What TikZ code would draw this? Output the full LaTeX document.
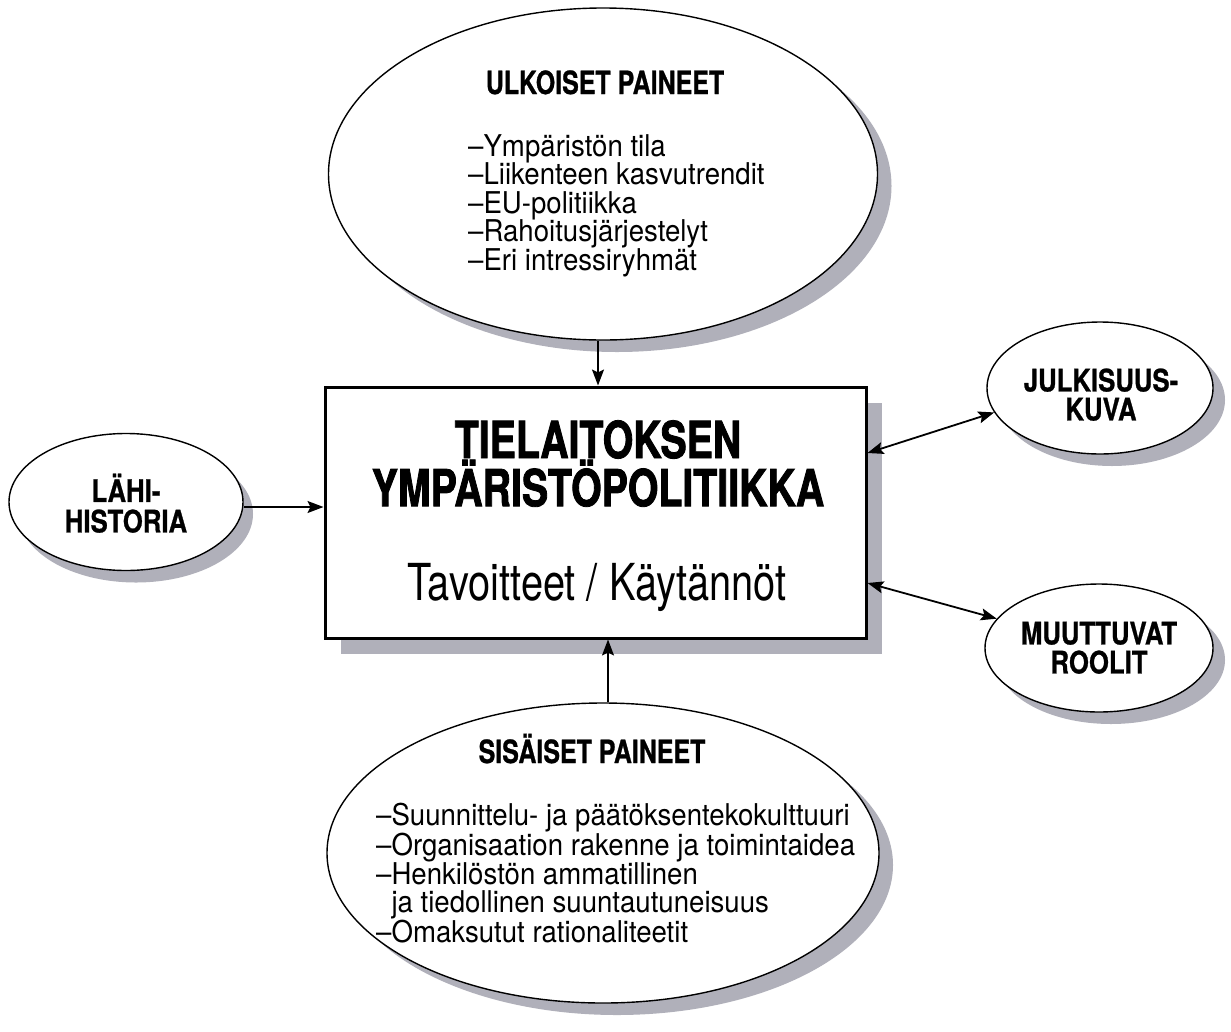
\documentclass[tikz,border=0pt]{standalone}
\usepackage{fontspec}
\setmainfont{TeX Gyre Heros}
\newfontfamily\itemf[FakeStretch=0.92]{TeX Gyre Heros}
\newfontfamily\headf[FakeStretch=0.78,BoldFeatures={FakeBold=0.8}]{TeX Gyre Heros}
\newfontfamily\smallf[FakeStretch=0.83,BoldFeatures={FakeBold=0.8}]{TeX Gyre Heros}
\newfontfamily\titlef[FakeStretch=0.77,BoldFeatures={FakeBold=1.6}]{TeX Gyre Heros}
\newfontfamily\subf[FakeStretch=0.78]{TeX Gyre Heros}
\usetikzlibrary{shapes.geometric,arrows.meta,calc}
\definecolor{shade}{RGB}{176,176,186}
\begin{document}
\begin{tikzpicture}[x=1pt,y=-1pt,
  bubble/.style={ellipse, draw=black, line width=1.4pt, fill=white, inner sep=0pt},
  bubshadow/.style={ellipse, fill=shade, draw=none, inner sep=0pt},
  tip/.tip={Stealth[length=16pt,width=12pt,inset=3pt]},
  conn/.style={line width=1.8pt, -tip},
  dconn/.style={line width=1.8pt, tip-tip},
  headtxt/.style={font=\headf\bfseries\fontsize{32}{32}\selectfont, inner sep=0pt},
  smalltxt/.style={font=\smallf\bfseries\fontsize{31}{29}\selectfont, inner sep=0pt, align=center},
  itemtxt/.style={font=\itemf\fontsize{30}{28.5}\selectfont, inner sep=0pt, align=left},
  titletxt/.style={font=\titlef\bfseries\fontsize{51}{45}\selectfont, inner sep=0pt, align=center},
  subtxt/.style={font=\subf\fontsize{51}{51}\selectfont, inner sep=0pt}
]
\useasboundingbox (0,0) rectangle (1231,1031);
\fill[white] (0,0) rectangle (1231,1031);

% shadows
\node[bubshadow, minimum width=549pt, minimum height=332pt] (ulksh) at (617,186) {};
\node[bubshadow, minimum width=552pt, minimum height=300pt] (sissh) at (617,865) {};
\node[bubshadow, minimum width=234pt, minimum height=137pt] (lahish) at (136,514) {};
\node[bubshadow, minimum width=226pt, minimum height=132pt] (julksh) at (1112,400) {};
\node[bubshadow, minimum width=228pt, minimum height=128pt] (muttsh) at (1111,660) {};
\node[fill=shade, minimum width=541pt, minimum height=251pt, inner sep=0pt] (boxsh) at (611.5,528.5) {};

% shapes
\node[bubble, minimum width=549pt, minimum height=332pt] (ulk) at (603,174) {};
\node[bubble, minimum width=552pt, minimum height=300pt] (sis) at (603,853) {};
\node[bubble, minimum width=234pt, minimum height=137pt] (lahi) at (126,502) {};
\node[bubble, minimum width=226pt, minimum height=132pt] (julk) at (1100,388) {};
\node[bubble, minimum width=228pt, minimum height=128pt] (mutt) at (1099,648) {};
\node[draw=black, line width=3pt, fill=white, minimum width=541pt, minimum height=251pt, inner sep=0pt] (box) at (595.5,512.5) {};

% texts
\node[headtxt, anchor=base] (ulkhead) at (605,94) {ULKOISET PAINEET};
\node[itemtxt, anchor=north west] (ulkitems) at (468,134) {–Ympäristön tila\\–Liikenteen kasvutrendit\\–EU-politiikka\\–Rahoitusjärjestelyt\\–Eri intressiryhmät};
\node[headtxt, anchor=base] (sishead) at (592,763) {SISÄISET PAINEET};
\node[itemtxt, anchor=north west] (sisitems) at (376,803) {–Suunnittelu- ja päätöksentekokulttuuri\\–Organisaation rakenne ja toimintaidea\\–Henkilöstön ammatillinen\\\hphantom{–}ja tiedollinen suuntautuneisuus\\–Omaksutut rationaliteetit};
\node[smalltxt, anchor=south, font=\smallf\bfseries\fontsize{31}{30.5}\selectfont] (lahitxt) at (126,533) {LÄHI-\\HISTORIA};
\node[smalltxt, anchor=south] (julktxt) at (1101,421) {JULKISUUS-\\KUVA};
\node[smalltxt, anchor=south] (mutttxt) at (1099,674) {MUUTTUVAT\\ROOLIT};
\node[titletxt, anchor=south] (title) at (598,507) {TIELAITOKSEN\\YMPÄRISTÖPOLITIIKKA};
\node[subtxt, anchor=base] (sub) at (597,600) {Tavoitteet / Käytännöt};

% connectors
\draw[conn] ([xshift=-5pt]ulk.south) -- ([xshift=-5pt]ulk.south |- box.north);
\draw[conn] ([xshift=5pt]sis.north) -- ([xshift=5pt]sis.north |- box.south);
\draw[conn] ([yshift=-5pt]lahi.east) -- ([yshift=-5pt]lahi.east -| box.west);
\draw[dconn] ([yshift=59.5pt]box.east) -- (julk.193);
\draw[dconn] ([yshift=-70.5pt]box.east) -- (mutt.164);
\end{tikzpicture}
\end{document}
